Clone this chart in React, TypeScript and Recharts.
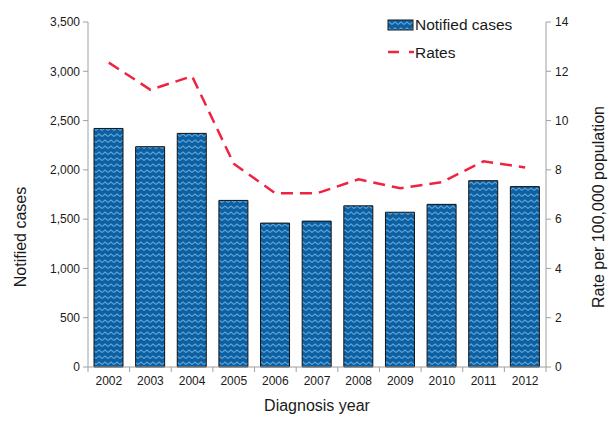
import React from 'react';
import { ComposedChart, Bar, Line, XAxis, YAxis, Legend } from 'recharts';

const years = ['2002', '2003', '2004', '2005', '2006', '2007', '2008', '2009', '2010', '2011', '2012'];
const notifiedCases = [2420, 2235, 2370, 1690, 1460, 1480, 1635, 1570, 1650, 1890, 1830];
const rates = [12.35, 11.25, 11.8, 8.25, 7.05, 7.05, 7.62, 7.25, 7.5, 8.35, 8.1];
const leftTicks = [0, 500, 1000, 1500, 2000, 2500, 3000, 3500];
const rightTicks = [0, 2, 4, 6, 8, 10, 12, 14];

const data = years.map((y, i) => ({ year: y, cases: notifiedCases[i], rate: rates[i] }));

const W = 611;
const H = 426;
const LEFT_W = 88;
const RIGHT_W = 65;
const PLOT_W = W - LEFT_W - RIGHT_W;
const STEP = PLOT_W / years.length;
const AXIS = '#a0a0a0';
const TXT = '#1a1a1a';
const FONT = '"Liberation Sans", Arial, sans-serif';
const RED = '#ee2440';

const fmt = (v: number) => v.toLocaleString('en-US');

const XTick = (props: any) => {
  const { x, y, payload, index } = props;
  const last = index === years.length - 1;
  return (
    <g>
      <line x1={x - STEP / 2} x2={x - STEP / 2} y1={y} y2={y + 5} stroke={AXIS} strokeWidth={1} />
      {last && <line x1={x + STEP / 2} x2={x + STEP / 2} y1={y} y2={y + 5} stroke={AXIS} strokeWidth={1} />}
      <text x={x} y={y + 18} textAnchor="middle" fontSize={12} fill={TXT} fontFamily={FONT}>
        {payload.value}
      </text>
    </g>
  );
};

const LeftLabel = () => (
  <text transform="translate(20, 237) rotate(-90)" textAnchor="middle" dominantBaseline="central" fontSize={16} fill={TXT} fontFamily={FONT}>
    Notified cases
  </text>
);

const RightLabel = () => (
  <text transform="translate(598, 207) rotate(-90)" textAnchor="middle" dominantBaseline="central" fontSize={16} fill={TXT} fontFamily={FONT}>
    Rate per 100,000 population
  </text>
);

const LegendContent = () => (
  <svg width={150} height={50} style={{ overflow: 'visible', display: 'block' }}>
    <rect x={2} y={6} width={25} height={10} fill="url(#zigzag)" stroke="#1a1a1a" strokeWidth={1} />
    <text x={29} y={16} fontSize={15.5} fill={TXT} fontFamily={FONT}>Notified cases</text>
    <line x1={2} x2={28} y1={38} y2={38} stroke={RED} strokeWidth={2.5} strokeDasharray="11 10" />
    <text x={29} y={44} fontSize={15.5} fill={TXT} fontFamily={FONT}>Rates</text>
  </svg>
);

export default function App() {
  return (
    <div style={{ position: 'absolute', left: 0, top: 0, width: W, height: H, background: '#fff' }}>
      <ComposedChart
        width={W}
        height={H}
        data={data}
        margin={{ top: 22, right: 0, bottom: 0, left: 0 }}
      >
        <defs>
          <pattern id="zigzag" patternUnits="userSpaceOnUse" width={6} height={6}>
            <rect x={0} y={0} width={6} height={6} fill="#0e5f9f" />
            <path d="M0,4.5 L3,2 L6,4.5" fill="none" stroke="#5aa3dc" strokeWidth={1.1} />
          </pattern>
        </defs>
        <XAxis
          dataKey="year"
          height={59}
          stroke={AXIS}
          tickLine={false}
          tickSize={0}
          tickMargin={0}
          interval={0}
          tick={<XTick />}
          label={{ value: 'Diagnosis year', position: 'insideBottom', offset: 15, fontSize: 16, fill: TXT, fontFamily: FONT }}
        />
        <YAxis
          yAxisId="left"
          orientation="left"
          width={LEFT_W}
          domain={[0, 3500]}
          ticks={leftTicks}
          tickFormatter={fmt}
          stroke={AXIS}
          tickSize={5}
          tickMargin={3}
          tick={{ fontSize: 12, fill: TXT, fontFamily: FONT }}
          label={<LeftLabel />}
        />
        <YAxis
          yAxisId="right"
          orientation="right"
          width={RIGHT_W}
          domain={[0, 14]}
          ticks={rightTicks}
          stroke={AXIS}
          tickSize={5}
          tickMargin={4}
          tick={{ fontSize: 12, fill: TXT, fontFamily: FONT }}
          label={<RightLabel />}
        />
        <Legend
          content={<LegendContent />}
          layout="vertical"
          verticalAlign="middle"
          align="center"
          wrapperStyle={{ position: 'absolute', left: 386, top: 14, width: 150, height: 50 }}
        />
        <Bar
          yAxisId="left"
          dataKey="cases"
          name="Notified cases"
          fill="url(#zigzag)"
          stroke="#111"
          strokeWidth={1}
          barSize={29}
          isAnimationActive={false}
        />
        <Line
          yAxisId="right"
          dataKey="rate"
          name="Rates"
          type="linear"
          stroke={RED}
          strokeWidth={2.5}
          strokeDasharray="12 7"
          dot={false}
          activeDot={false}
          isAnimationActive={false}
        />
      </ComposedChart>
    </div>
  );
}
